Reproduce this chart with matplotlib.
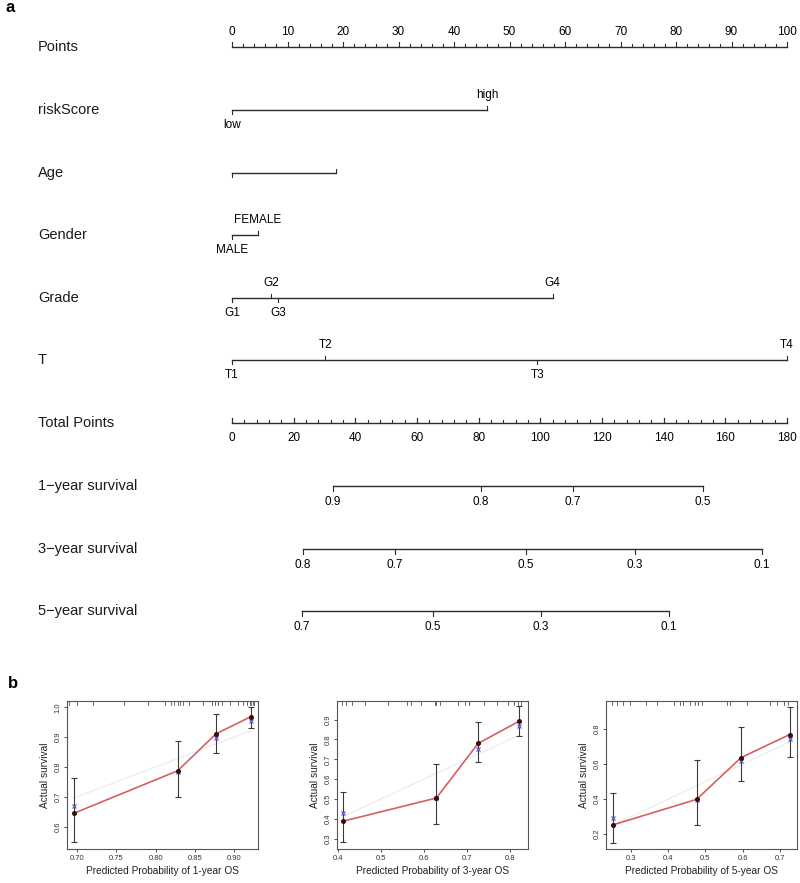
import numpy as np
import matplotlib.pyplot as plt

plt.rcParams['font.family'] = ['Liberation Sans', 'DejaVu Sans']

# ---- nomogram (panel a) ----
point_ticks = np.arange(0, 101, 10)
total_ticks = np.arange(0, 181, 20)
max_total = 180

row_names = ['Points', 'riskScore', 'Age', 'Gender', 'Grade', 'T', 'Total Points',
             '1\u2212year survival', '3\u2212year survival', '5\u2212year survival']

risk_labels = ['low', 'high']
risk_points = [0, 46.0]
age_labels = ['', '']
age_points = [0, 18.8]
gender_labels = ['MALE', 'FEMALE']
gender_points = [0, 4.6]
grade_labels = ['G1', 'G2', 'G3', 'G4']
grade_points = [0, 7.0, 8.3, 57.8]
t_labels = ['T1', 'T2', 'T3', 'T4']
t_points = [0, 16.8, 55.0, 100.0]

surv1_labels = ['0.9', '0.8', '0.7', '0.5']
surv1_total = [32.8, 80.8, 110.6, 152.8]
surv3_labels = ['0.8', '0.7', '0.5', '0.3', '0.1']
surv3_total = [23.0, 52.9, 95.4, 130.7, 171.9]
surv5_labels = ['0.7', '0.5', '0.3', '0.1']
surv5_total = [22.7, 65.2, 100.2, 141.7]

# ---- calibration curves (panel b) ----
cal_titles = ['Predicted Probability of 1-year OS',
              'Predicted Probability of 3-year OS',
              'Predicted Probability of 5-year OS']
cal_pred = [[0.696, 0.828, 0.877, 0.921],
            [0.412, 0.629, 0.726, 0.822],
            [0.250, 0.476, 0.596, 0.727]]
cal_obs = [[0.645, 0.787, 0.911, 0.968],
           [0.388, 0.505, 0.780, 0.893],
           [0.252, 0.398, 0.637, 0.769]]
cal_corr = [[0.670, 0.783, 0.898, 0.954],
            [0.430, 0.503, 0.753, 0.866],
            [0.292, 0.396, 0.615, 0.743]]
cal_lo = [[0.547, 0.700, 0.848, 0.931],
          [0.283, 0.375, 0.686, 0.818],
          [0.148, 0.254, 0.506, 0.641]]
cal_hi = [[0.762, 0.888, 0.978, 1.001],
          [0.534, 0.677, 0.888, 0.969],
          [0.434, 0.621, 0.810, 0.928]]
cal_rug = [[0.690, 0.700, 0.720, 0.760, 0.790, 0.812, 0.820, 0.824, 0.828, 0.831, 0.835,
            0.842, 0.860, 0.872, 0.876, 0.879, 0.884, 0.895, 0.905, 0.912, 0.917, 0.920,
            0.922, 0.924, 0.926],
           [0.409, 0.420, 0.432, 0.463, 0.517, 0.560, 0.571, 0.594, 0.625, 0.629, 0.637,
            0.680, 0.695, 0.706, 0.740, 0.771, 0.795, 0.810, 0.818, 0.826],
           [0.247, 0.260, 0.278, 0.296, 0.340, 0.368, 0.414, 0.430, 0.440, 0.459, 0.472,
            0.481, 0.490, 0.558, 0.567, 0.612, 0.675, 0.693, 0.711, 0.724]]
cal_xlim = [(0.687, 0.9305), (0.398, 0.842), (0.2315, 0.747)]
cal_ylim = [(0.525, 1.021), (0.248, 0.994), (0.114, 0.961)]
cal_xticks = [np.arange(0.70, 0.901, 0.05), np.arange(0.4, 0.801, 0.1), np.arange(0.3, 0.701, 0.1)]
cal_yticks = [np.arange(0.6, 1.001, 0.1), np.arange(0.3, 0.901, 0.1), np.arange(0.2, 0.801, 0.2)]
cal_xfmt = ['%.2f', '%.1f', '%.1f']

W, H = 800, 883
fig = plt.figure(figsize=(W / 100, H / 100), dpi=100)

# nomogram axes: x in "points", y in pixel rows
ax = fig.add_axes([0, 0, 1, 1])
px_per_pt = (787 - 232) / 100
ax.set_xlim(-232 / px_per_pt, (W - 232) / px_per_pt)
ax.set_ylim(H, 0)
ax.axis('off')

lc = '#2b2b2b'
lw = 1.0
name_x = (38 - 232) / px_per_pt
row_y = [47, 110, 172.5, 235, 297.5, 360, 423, 486, 548.5, 611]
fs_name = 10.5
fs_tick = 8.5

for name, y in zip(row_names, row_y):
    ax.text(name_x, y, name, fontsize=fs_name, ha='left', va='center', color='#1a1a1a')

# Points axis
y0 = row_y[0]
ax.plot([0, 100], [y0, y0], color=lc, lw=lw)
for v in np.arange(0, 101, 2):
    ln = 5 if v % 10 == 0 else 3
    ax.plot([v, v], [y0, y0 - ln], color=lc, lw=0.8)
for v in point_ticks:
    ax.text(v, y0 - 15, str(v), fontsize=fs_tick, ha='center', va='center')


def draw_row(y, pts, labels):
    ax.plot([min(pts), max(pts)], [y, y], color=lc, lw=lw)
    for i, (p, lab) in enumerate(zip(pts, labels)):
        side = 1 if i % 2 == 0 else -1
        ax.plot([p, p], [y, y + side * 4], color=lc, lw=0.8)
        if lab:
            ax.text(p, y + side * 15, lab, fontsize=fs_tick, ha='center', va='center')


draw_row(row_y[1], risk_points, risk_labels)
draw_row(row_y[2], age_points, age_labels)
draw_row(row_y[3], gender_points, gender_labels)
draw_row(row_y[4], grade_points, grade_labels)
draw_row(row_y[5], t_points, t_labels)

# Total points axis
scale = 100 / max_total
yt = row_y[6]
ax.plot([0, 100], [yt, yt], color=lc, lw=lw)
for v in np.arange(0, max_total + 1, 4):
    ln = 5 if v % 20 == 0 else 3
    ax.plot([v * scale] * 2, [yt, yt - ln], color=lc, lw=0.8)
for v in total_ticks:
    ax.plot([v * scale] * 2, [yt, yt - 5], color=lc, lw=0.8)
    ax.text(v * scale, yt + 15, str(v), fontsize=fs_tick, ha='center', va='center')

# survival scales
for y, labs, tots in [(row_y[7], surv1_labels, surv1_total),
                      (row_y[8], surv3_labels, surv3_total),
                      (row_y[9], surv5_labels, surv5_total)]:
    xs = [t * scale for t in tots]
    ax.plot([min(xs), max(xs)], [y, y], color=lc, lw=lw)
    for xv, lab in zip(xs, labs):
        ax.plot([xv, xv], [y, y + 5], color=lc, lw=0.8)
        ax.text(xv, y + 16, lab, fontsize=fs_tick, ha='center', va='center')

fig.text(10 / W, 1 - 8 / H, 'a', fontsize=12, fontweight='bold', ha='center', va='center')
fig.text(13 / W, 1 - 683 / H, 'b', fontsize=12, fontweight='bold', ha='center', va='center')

# calibration panels
boxes = [(67, 258), (337, 528), (606, 797)]
top_px, bot_px = 701, 849
for k in range(3):
    l, r = boxes[k]
    cax = fig.add_axes([l / W, 1 - bot_px / H, (r - l) / W, (bot_px - top_px) / H])
    pred = np.array(cal_pred[k])
    obs = np.array(cal_obs[k])
    cax.plot([pred.min(), pred.max()], [pred.min(), pred.max()], color='#ececec', lw=0.9, zorder=1)
    cax.errorbar(pred, obs, yerr=[obs - np.array(cal_lo[k]), np.array(cal_hi[k]) - obs],
                 fmt='none', ecolor='#3a3a3a', elinewidth=0.8, capsize=2, capthick=0.8, zorder=2)
    cax.plot(pred, obs, color='#d46060', lw=1.2, zorder=3)
    cax.plot(pred, cal_corr[k], 'x', color='#6060cc', ms=3, mew=0.9, zorder=4)
    cax.plot(pred, obs, 'o', color='#3a0d0d', ms=2.6, zorder=5)
    ylo, yhi = cal_ylim[k]
    for rv in cal_rug[k]:
        cax.plot([rv, rv], [yhi, yhi - (yhi - ylo) * 0.025], color='#555555', lw=0.6)
    cax.set_xlim(cal_xlim[k])
    cax.set_ylim(cal_ylim[k])
    cax.set_xticks(cal_xticks[k])
    cax.set_xticklabels([cal_xfmt[k] % v for v in cal_xticks[k]])
    cax.set_yticks(cal_yticks[k])
    cax.set_yticklabels(['%.1f' % v for v in cal_yticks[k]], rotation=90, va='center')
    cax.tick_params(direction='out', length=2.5, width=0.6, labelsize=5.5, pad=1.5,
                    colors='#333333')
    for s in cax.spines.values():
        s.set_color('#555555')
        s.set_linewidth(0.8)
    cax.set_xlabel(cal_titles[k], fontsize=7.3, labelpad=3, color='#222222')
    cax.set_ylabel('Actual survival', fontsize=7.3, labelpad=3, color='#222222')

fig.savefig('out.png', dpi=100)
